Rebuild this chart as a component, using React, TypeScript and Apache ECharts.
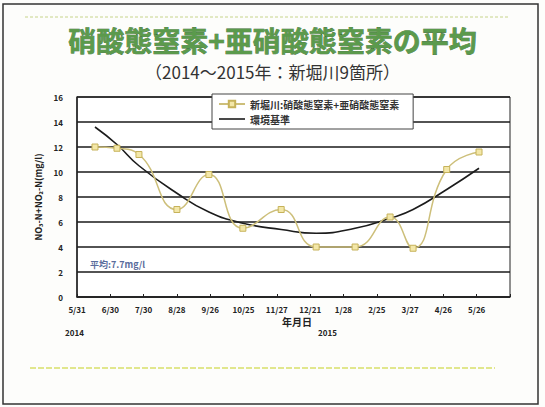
import React, { useEffect, useRef } from "react";
import * as echarts from "echarts";

const tickLabels = ["5/31", "6/30", "7/30", "8/28", "9/26", "10/25", "11/27", "12/21", "1/28", "2/25", "3/27", "4/26", "5/26", ""];
const xPositions = [0.54, 1.2, 1.86, 3.0, 3.96, 4.98, 6.13, 7.18, 8.35, 9.4, 10.09, 11.1, 12.07];
const nitrateValues = [12.0, 11.9, 11.4, 7.0, 9.8, 5.5, 7.0, 4.0, 4.0, 6.4, 3.9, 10.2, 11.6];
const trendValues = [13.6, 12.2, 10.5, 8.3, 6.8, 5.9, 5.4, 5.1, 5.5, 6.3, 7.0, 8.6, 10.3];
const seriesNames = ["新堀川:硝酸態窒素+亜硝酸態窒素", "環境基準"];
const yTicks = { min: 0, max: 16, interval: 2 };

export default function App() {
  const ref = useRef<HTMLDivElement>(null);
  useEffect(() => {
    if (!ref.current) return;
    const chart = echarts.init(ref.current, null, { renderer: "svg" });
    const font = "'Noto Sans CJK JP', 'Noto Sans', sans-serif";
    chart.setOption({
      animation: false,
      backgroundColor: "#fdfdfb",
      textStyle: { fontFamily: font },
      grid: { left: 77, right: 35, top: 97, bottom: 110, show: true, borderColor: "#222", borderWidth: 1, backgroundColor: "#ffffff" },
      legend: {
        left: 212,
        top: 94,
        orient: "vertical",
        backgroundColor: "#fff",
        borderColor: "#444",
        borderWidth: 1,
        padding: [5, 14, 5, 6],
        itemGap: 5,
        itemWidth: 26,
        itemHeight: 8,
        textStyle: { fontSize: 10, fontWeight: "bold", color: "#333", fontFamily: font },
        data: [
          { name: seriesNames[0] },
          { name: seriesNames[1], icon: "path://M0,0 L26,0 L26,1.6 L0,1.6 Z" },
        ],
      },
      xAxis: {
        type: "value",
        min: 0,
        max: 13,
        interval: 1,
        axisLine: { show: true, lineStyle: { color: "#222", width: 1.5 } },
        axisTick: { show: true, inside: true, length: 3, lineStyle: { color: "#222" } },
        splitLine: { show: false },
        axisLabel: {
          margin: 8,
          fontSize: 8,
          fontWeight: "bold",
          color: "#222",
          formatter: (v: number) => tickLabels[Math.round(v)] ?? "",
        },
      },
      yAxis: {
        type: "value",
        min: yTicks.min,
        max: yTicks.max,
        interval: yTicks.interval,
        name: "NO₃-N+NO₂-N(mg/l)",
        nameLocation: "middle",
        nameGap: 25,
        nameTextStyle: { fontSize: 9, fontWeight: "bold", color: "#222" },
        axisLine: { show: true, lineStyle: { color: "#222", width: 1.5 } },
        axisTick: { show: false },
        splitLine: { show: true, lineStyle: { color: "#1a1a1a", width: 1.6 } },
        axisLabel: { fontSize: 8, fontWeight: "bold", color: "#222", margin: 14 },
      },
      series: [
        {
          name: seriesNames[0],
          type: "line",
          smooth: true,
          data: xPositions.map((x, i) => [x, nitrateValues[i]]),
          symbol: "rect",
          symbolSize: 6,
          lineStyle: { color: "#cdbf7a", width: 1.5 },
          itemStyle: { color: "#f3e7a8", borderColor: "#c6b25a", borderWidth: 1 },
          z: 3,
        },
        {
          name: seriesNames[1],
          type: "line",
          smooth: true,
          data: xPositions.map((x, i) => [x, trendValues[i]]),
          symbol: "none",
          lineStyle: { color: "#1c1c1c", width: 1.6 },
          itemStyle: { color: "#1c1c1c" },
          z: 2,
        },
      ],
      graphic: [
        { type: "rect", shape: { x: 3, y: 4, width: 535, height: 400 }, style: { fill: "none", stroke: "#333", lineWidth: 1.5 }, silent: true, z: -1 },
        { type: "line", shape: { x1: 25, y1: 17, x2: 510, y2: 17 }, style: { stroke: "#c7d48a", lineWidth: 1, lineDash: [3, 2] }, silent: true },
        { type: "line", shape: { x1: 30, y1: 368, x2: 495, y2: 368 }, style: { stroke: "#d8e06a", lineWidth: 1.5, lineDash: [6, 2] }, silent: true },
        {
          type: "text",
          left: "center",
          top: 26,
          style: {
            text: "硝酸態窒素+亜硝酸態窒素の平均",
            fontSize: 28,
            fontWeight: "bold",
            fontFamily: font,
            fill: "#5b9a4c",
            stroke: "#33662c",
            lineWidth: 0.6,
          },
        },
        {
          type: "text",
          left: "center",
          top: 63,
          style: { text: "（2014～2015年：新堀川9箇所）", fontSize: 17, fontFamily: font, fill: "#333" },
        },
        {
          type: "text",
          left: 90,
          top: 260,
          style: { text: "平均:7.7mg/l", fontSize: 9, fontWeight: "bold", fontFamily: font, fill: "#5a6c9c" },
        },
        { type: "text", left: 282, top: 316, style: { text: "年月日", fontSize: 10, fontWeight: "bold", fontFamily: font, fill: "#222" } },
        { type: "text", left: 65, top: 328, style: { text: "2014", fontSize: 8, fontWeight: "bold", fontFamily: font, fill: "#222" } },
        { type: "text", left: 318, top: 328, style: { text: "2015", fontSize: 8, fontWeight: "bold", fontFamily: font, fill: "#222" } },
      ],
    });
    return () => chart.dispose();
  }, []);
  return <div ref={ref} style={{ position: "absolute", left: 0, top: 0, width: 545, height: 407 }} />;
}
